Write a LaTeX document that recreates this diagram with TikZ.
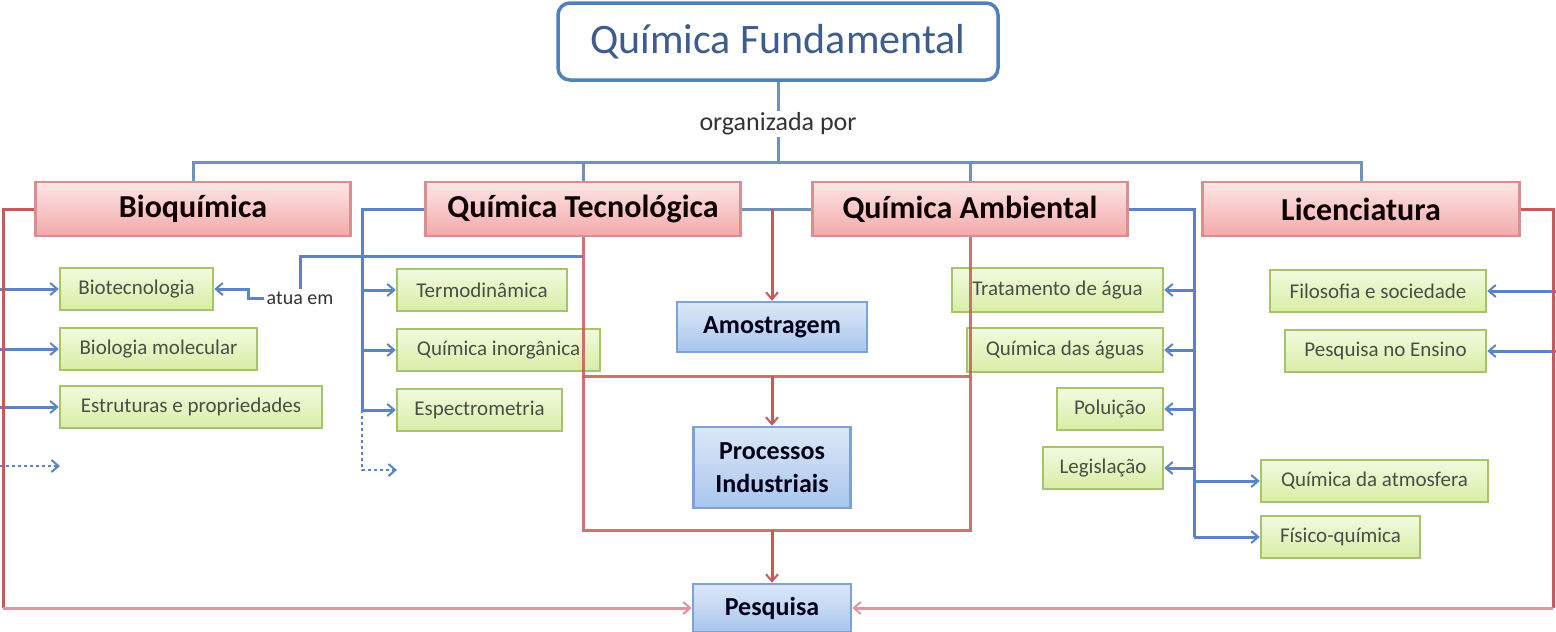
\documentclass[tikz,border=0pt]{standalone}
\usepackage{fontspec}
\setmainfont{Carlito}
\usetikzlibrary{arrows.meta}
\definecolor{bluel}{HTML}{5B84C4}
\definecolor{barl}{HTML}{7391B8}
\definecolor{redl}{HTML}{C65A5A}
\definecolor{pinkl}{HTML}{E394A0}
\definecolor{titleb}{HTML}{4F81BD}
\definecolor{titlet}{HTML}{3D5C8F}
\definecolor{rtop}{HTML}{FDE6E6}
\definecolor{rbot}{HTML}{F3A9AA}
\definecolor{rbord}{HTML}{D98F8F}
\definecolor{btop}{HTML}{DCE8F8}
\definecolor{bbot}{HTML}{A9C5EE}
\definecolor{bbord}{HTML}{7EA2D6}
\definecolor{gtop}{HTML}{F2FADF}
\definecolor{gbot}{HTML}{D8EEA6}
\definecolor{gbord}{HTML}{A8C46A}
\definecolor{gtext}{HTML}{4A4F45}
\tikzset{
  titlebox/.style={draw=titleb, line width=3.5pt, rounded corners=12pt, fill=white,
    minimum width=440pt, minimum height=77pt, text=titlet, font=\fontsize{42}{48}\selectfont},
  redbox/.style={draw=rbord, line width=2.5pt, top color=rtop, bottom color=rbot,
    minimum width=315pt, minimum height=54pt, text=black!95!red, font=\bfseries\fontsize{32}{36}\selectfont},
  bluebox/.style={draw=bbord, line width=2.5pt, top color=btop, bottom color=bbot,
    minimum height=50pt, align=center, text=black!90!blue, font=\bfseries\fontsize{26}{33}\selectfont},
  greenbox/.style={draw=gbord, line width=2.5pt, top color=gtop, bottom color=gbot,
    minimum height=42pt, text=gtext, font=\fontsize{21}{24}\selectfont},
  lbl/.style={text=black!80, inner sep=2pt},
  bl/.style={draw=bluel, line width=3pt},
  bar/.style={draw=barl, line width=3pt},
  rl/.style={draw=redl, line width=3pt},
  pl/.style={draw=pinkl, line width=3pt},
  tip/.style={-{Straight Barb[length=7pt,width=12pt,line width=2pt]}},
}
\begin{document}
\begin{tikzpicture}[x=1pt,y=-1pt]
\useasboundingbox[fill=white] (0,0) rectangle (1556,632);
% main nodes
\node[titlebox] (title) at (778,41.5) {Química Fundamental};
\node[lbl, font=\fontsize{26}{30}\selectfont] (org) at (778,124) {organizada por};
\coordinate (hub) at (778,162);
\node[redbox] (bio) at (193,209) {Bioquímica};
\node[redbox] (tec) at (583,209) {Química Tecnológica};
\node[redbox] (amb) at (970,209) {Química Ambiental};
\node[redbox, minimum width=317pt] (lic) at (1361,209) {Licenciatura};
% blue boxes
\node[bluebox, minimum width=190pt] (amo) at (772,327) {Amostragem};
\node[bluebox, minimum width=157pt, minimum height=81pt] (proc) at (772,467.5) {Processos\\Industriais};
\node[bluebox, minimum width=158pt, minimum height=48pt] (pesq) at (772,608) {Pesquisa};
% green boxes
\node[greenbox, minimum width=153pt] (bio1) at (136.5,289) {Biotecnologia};
\node[greenbox, minimum width=197pt] (bio2) at (158.5,349) {Biologia molecular};
\node[greenbox, minimum width=262pt] (bio3) at (191,407) {Estruturas e propriedades};
\node[greenbox, minimum width=170pt] (tec1) at (482,290) {Termodinâmica};
\node[greenbox, minimum width=203pt] (tec2) at (498.5,350) {Química inorgânica};
\node[greenbox, minimum width=165pt] (tec3) at (479.5,410) {Espectrometria};
\node[greenbox, minimum width=211pt, minimum height=44pt] (amb1) at (1057.5,290) {Tratamento de água};
\node[greenbox, minimum width=196pt, minimum height=44pt] (amb2) at (1065,350) {Química das águas};
\node[greenbox, minimum width=106pt] (amb3) at (1110,409) {Poluição};
\node[greenbox, minimum width=120pt] (amb4) at (1103,468) {Legislação};
\node[greenbox, minimum width=227pt] (amb5) at (1374.5,481) {Química da atmosfera};
\node[greenbox, minimum width=159pt] (amb6) at (1340.5,537) {Físico-química};
\node[greenbox, minimum width=216pt] (lic1) at (1378,291) {Filosofia e sociedade};
\node[greenbox, minimum width=201pt] (lic2) at (1385.5,351) {Pesquisa no Ensino};
\node[lbl, font=\fontsize{20}{24}\selectfont] (atua) at (300,298) {atua em};
% coordinates
\coordinate (ledge) at (0,0);
\coordinate (redge) at (1556,0);
\coordinate (lcorner) at (3,209);
\coordinate (rcorner) at (1553,209);
\coordinate (tl) at (362,209);
\coordinate (td) at (397,470);
\coordinate (bd) at (60,466);
\coordinate (ar) at (1194,209);
\coordinate (a1) at (583,256);
\coordinate (r1) at (0,376);
\coordinate (rb) at (0,530);
% top tree
\draw[bar] (title.south) -- (org.north);
\draw[bar] (org.south) -- (hub);
\draw[bar] (bio.north) -- (bio.north|-hub) -- (lic.north|-hub) -- (lic.north);
\draw[bar] (tec.north) -- (tec.north|-hub);
\draw[bar] (amb.north) -- (amb.north|-hub);
% Bioquimica children (from the left edge)
\draw[bl, tip] (bio1.west-|ledge) -- (bio1.west);
\draw[bl, tip] (bio2.west-|ledge) -- (bio2.west);
\draw[bl, tip] (bio3.west-|ledge) -- (bio3.west);
\draw[bl, dashed, line width=2pt, tip] (bd-|ledge) -- (bd);
% atua em
\draw[bl] (a1) -| (atua.north);
\draw[bl, tip] (atua.west) -- ++(-16,0) |- (bio1.east);
% Tecnologica children
\draw[bl] (tec.west) -- (tl) -- (tl|-tec3.west);
\draw[bl, tip] (tl|-tec1.west) -- (tec1.west);
\draw[bl, tip] (tl|-tec2.west) -- (tec2.west);
\draw[bl, tip] (tl|-tec3.west) -- (tec3.west);
\draw[bl, dashed, line width=2pt, tip] (tl|-tec3.west) |- (td);
% Ambiental children
\draw[bl] (amb.east) -- (ar) -- (ar|-amb6.west);
\draw[bl, tip] (ar|-amb1.east) -- (amb1.east);
\draw[bl, tip] (ar|-amb2.east) -- (amb2.east);
\draw[bl, tip] (ar|-amb3.east) -- (amb3.east);
\draw[bl, tip] (ar|-amb4.east) -- (amb4.east);
\draw[bl, tip] (ar|-amb5.west) -- (amb5.west);
\draw[bl, tip] (ar|-amb6.west) -- (amb6.west);
% Licenciatura children (from the right edge)
\draw[bl, tip] (lic1.east-|redge) -- (lic1.east);
\draw[bl, tip] (lic2.east-|redge) -- (lic2.east);
% red structure
\draw[bar] (tec.east) -- (amb.west);
\draw[rl, tip] (amo.north|-tec.east) -- (amo.north);
\draw[rl, opacity=0.85] (tec.south) -- (tec.south|-rb) -- (amb.south|-rb) -- (amb.south);
\draw[rl, opacity=0.85] (tec.south|-r1) -- (amb.south|-r1);
\draw[rl, tip] (proc.north|-r1) -- (proc.north);
\draw[rl, tip] (proc.north|-rb) -- (pesq.north);
% outer loops to Pesquisa
\draw[rl] (bio.west) -- (lcorner) -- (lcorner|-pesq.west);
\draw[pl, tip] (lcorner|-pesq.west) -- (pesq.west);
\draw[rl] (lic.east) -- (rcorner) -- (rcorner|-pesq.east);
\draw[pl, tip] (rcorner|-pesq.east) -- (pesq.east);
\end{tikzpicture}
\end{document}
